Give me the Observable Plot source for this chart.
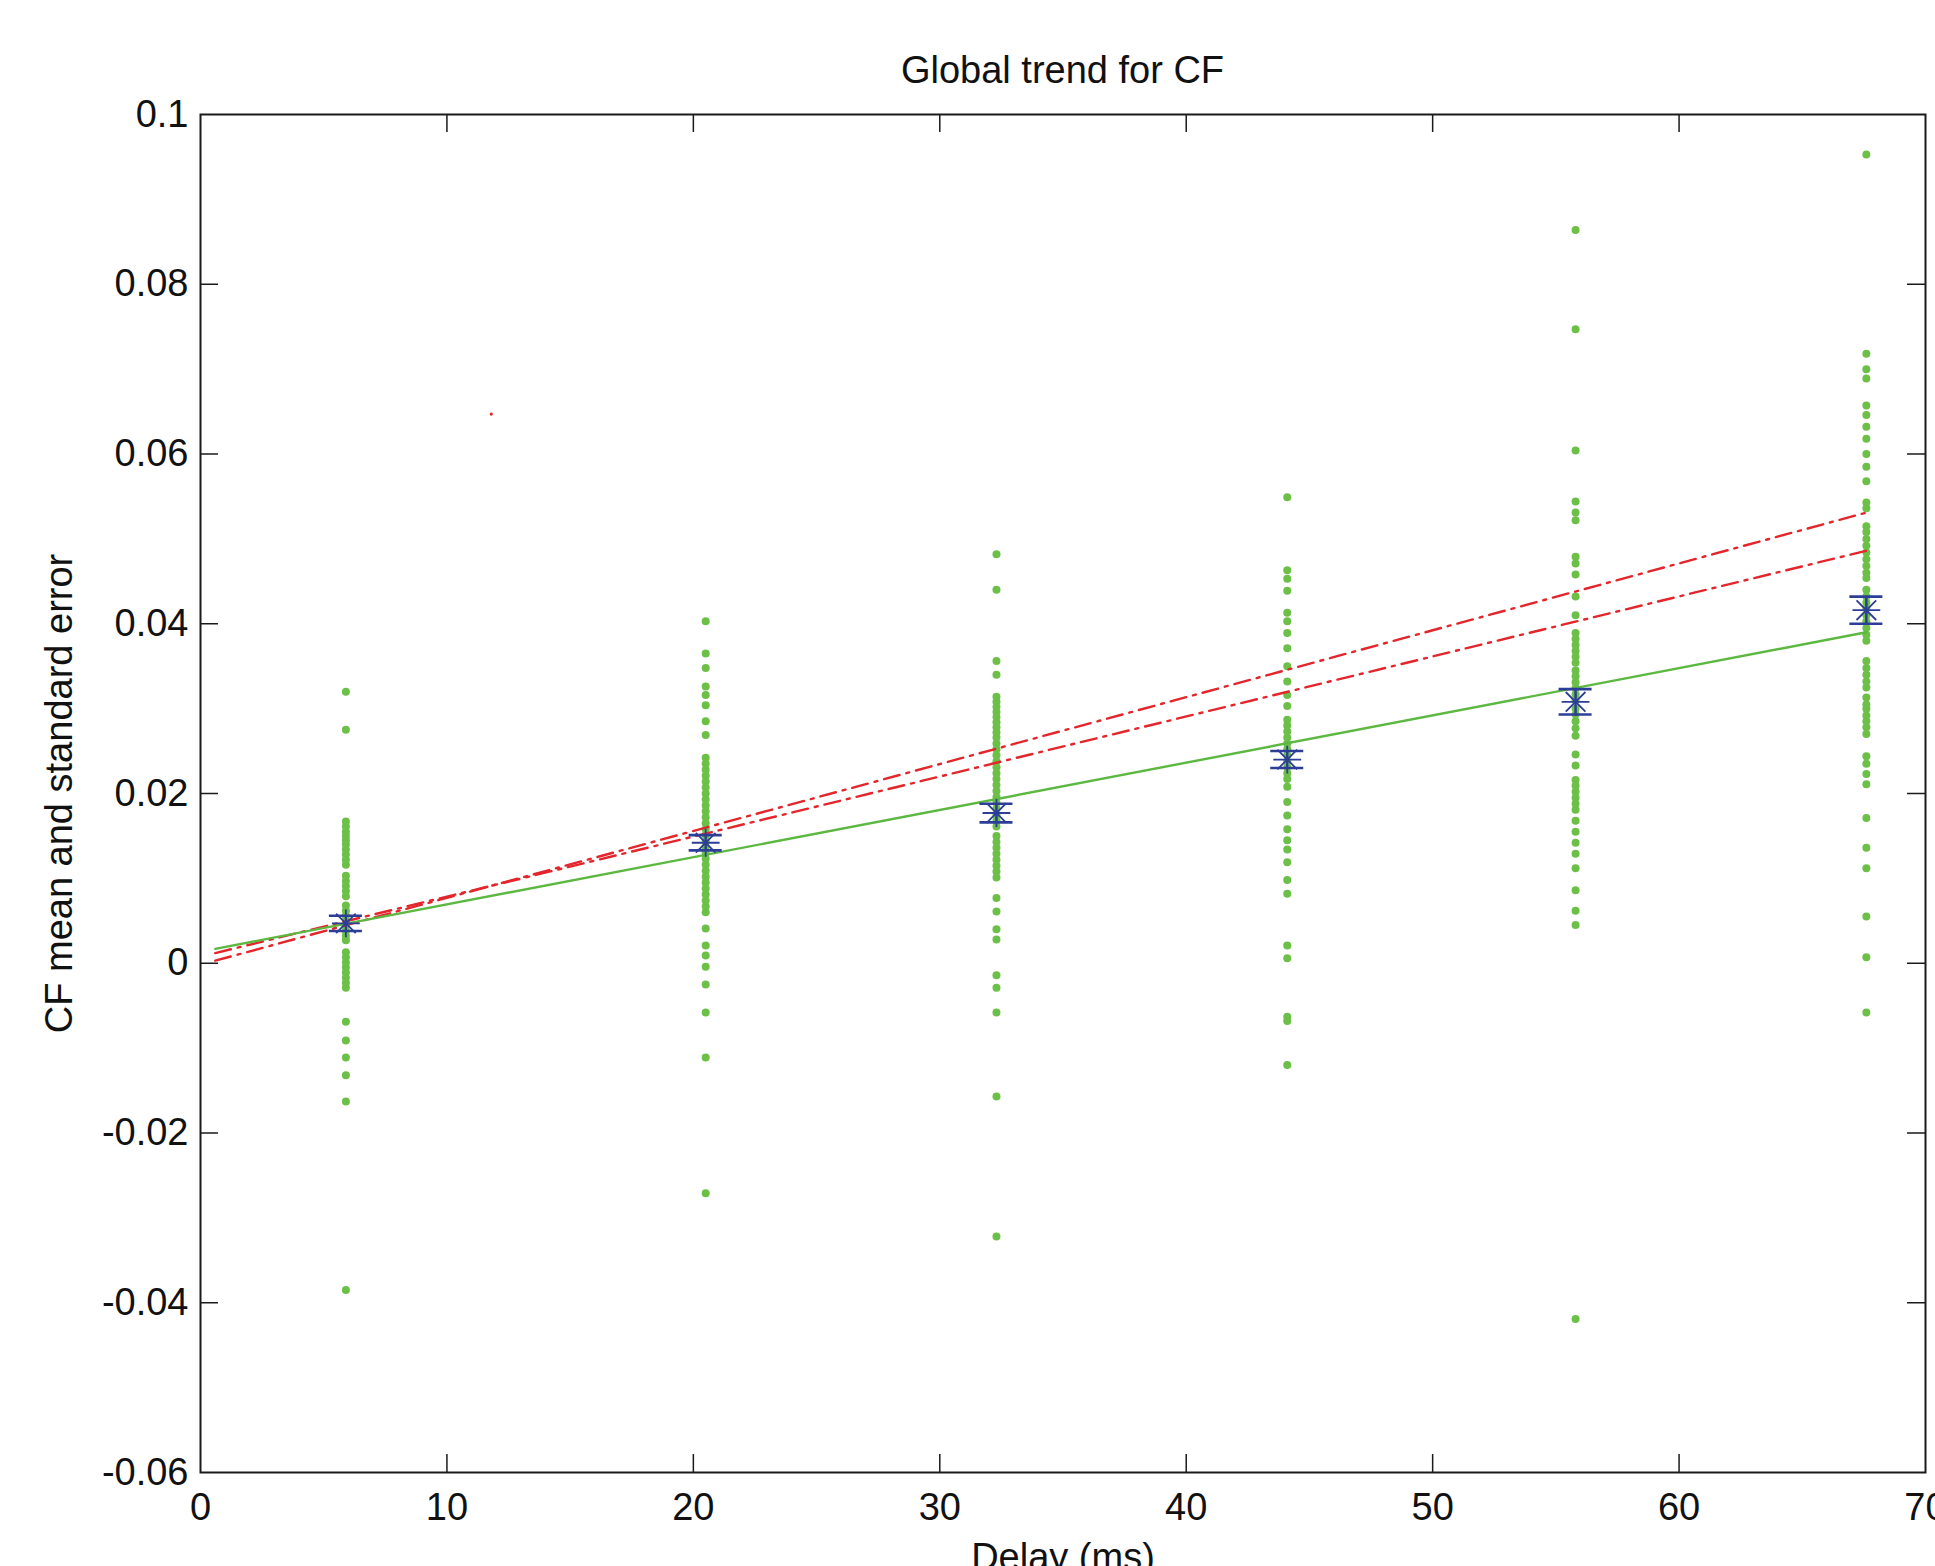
<!DOCTYPE html>
<html><head><meta charset="utf-8">
<script src="https://cdn.jsdelivr.net/npm/d3@7"></script>
<script src="https://cdn.jsdelivr.net/npm/@observablehq/plot@0.6"></script>
<style>
html,body{margin:0;padding:0;background:#fff;overflow:hidden;}
#title{position:relative;width:1935px;height:90px;font-family:"Liberation Sans",Arial,sans-serif;}
#title span{position:absolute;left:200px;width:1725px;top:48px;line-height:44px;text-align:center;font-size:38px;color:#111;}
</style></head>
<body>
<div id="title"><span>Global trend for CF</span></div>
<div id="chart"></div>
<script>
// ---- data ----
const delays = [5.9, 20.5, 32.3, 44.1, 55.8, 67.6];
const cf1 = [0.0320, 0.0275, 0.0167, 0.0161, 0.0155, 0.0150, 0.0145, 0.0140, 0.0134, 0.0128, 0.0122, 0.0116, 0.0103, 0.0097, 0.0091, 0.0085, 0.0079, 0.0068, 0.0062, 0.0056, 0.0050, 0.0044, 0.0038, 0.0032, 0.0027, 0.0013, 0.0007, 0.0001, -0.0005, -0.0011, -0.0017, -0.0023, -0.0029, -0.0069, -0.0091, -0.0111, -0.0132, -0.0163, -0.0385];
const cf2 = [0.0403, 0.0365, 0.0348, 0.0326, 0.0316, 0.0304, 0.0285, 0.0269, 0.0242, 0.0235, 0.0228, 0.0221, 0.0214, 0.0207, 0.0200, 0.0193, 0.0186, 0.0179, 0.0172, 0.0165, 0.0158, 0.0151, 0.0144, 0.0137, 0.0130, 0.0123, 0.0116, 0.0109, 0.0102, 0.0095, 0.0088, 0.0081, 0.0074, 0.0067, 0.0060, 0.0041, 0.0021, 0.0009, -0.0004, -0.0025, -0.0058, -0.0111, -0.0271];
const cf3 = [0.0482, 0.0440, 0.0356, 0.0340, 0.0314, 0.0308, 0.0302, 0.0296, 0.0290, 0.0284, 0.0278, 0.0272, 0.0266, 0.0259, 0.0252, 0.0245, 0.0238, 0.0231, 0.0224, 0.0217, 0.0210, 0.0203, 0.0196, 0.0189, 0.0182, 0.0175, 0.0168, 0.0161, 0.0150, 0.0143, 0.0136, 0.0129, 0.0122, 0.0115, 0.0108, 0.0101, 0.0077, 0.0061, 0.0040, 0.0028, -0.0014, -0.0029, -0.0058, -0.0157, -0.0322];
const cf4 = [0.0549, 0.0463, 0.0453, 0.0439, 0.0413, 0.0403, 0.0389, 0.0371, 0.0350, 0.0332, 0.0316, 0.0303, 0.0287, 0.0280, 0.0273, 0.0266, 0.0259, 0.0252, 0.0245, 0.0238, 0.0231, 0.0224, 0.0217, 0.0208, 0.0190, 0.0174, 0.0158, 0.0145, 0.0134, 0.0119, 0.0098, 0.0082, 0.0021, 0.0006, -0.0063, -0.0068, -0.0120];
const cf5 = [0.0864, 0.0747, 0.0604, 0.0544, 0.0531, 0.0522, 0.0479, 0.0471, 0.0458, 0.0432, 0.0410, 0.0389, 0.0382, 0.0375, 0.0368, 0.0361, 0.0354, 0.0345, 0.0338, 0.0331, 0.0324, 0.0317, 0.0310, 0.0300, 0.0293, 0.0285, 0.0277, 0.0268, 0.0246, 0.0233, 0.0216, 0.0209, 0.0202, 0.0195, 0.0188, 0.0181, 0.0168, 0.0155, 0.0142, 0.0129, 0.0112, 0.0086, 0.0062, 0.0045, -0.0419];
const cf6 = [0.0953, 0.0718, 0.0700, 0.0689, 0.0657, 0.0646, 0.0632, 0.0618, 0.0600, 0.0585, 0.0568, 0.0543, 0.0536, 0.0515, 0.0508, 0.0500, 0.0492, 0.0484, 0.0476, 0.0468, 0.0460, 0.0454, 0.0440, 0.0432, 0.0425, 0.0418, 0.0410, 0.0403, 0.0395, 0.0387, 0.0380, 0.0356, 0.0348, 0.0340, 0.0332, 0.0325, 0.0313, 0.0305, 0.0300, 0.0292, 0.0285, 0.0278, 0.0270, 0.0244, 0.0235, 0.0223, 0.0211, 0.0171, 0.0136, 0.0112, 0.0055, 0.0007, -0.0058];
const means = [0.0047, 0.0142, 0.0177, 0.0240, 0.0308, 0.0416];
const stdErr = [0.0009, 0.0009, 0.0011, 0.0010, 0.0015, 0.0016];
// trend lines (endpoints)
const lineX = [0.6, 67.6];
const greenFit = [0.0017, 0.0390];
const redUpper = [0.0003, 0.0531];
const redLower = [0.0012, 0.0486];
const strayX = [11.8];
const strayY = [0.0647];
// axis ticks
const xTicks = [0, 10, 20, 30, 40, 50, 60, 70];
const yTicks = [-0.06, -0.04, -0.02, 0, 0.02, 0.04, 0.06, 0.08, 0.1];

// ---- layout ----
const W = 1935, H = 1476;
const mL = 200, mR = 10, mT = 24, mB = 94;
const innerW = W - mL - mR, innerH = H - mT - mB;
const tickLen = 18;
const capHalf = 0.67; // ms

const cols = [cf1, cf2, cf3, cf4, cf5, cf6];
const points = delays.flatMap((d, i) => cols[i].map(v => ({delay: d, cf: v})));
const stats = delays.map((d, i) => ({delay: d, mean: means[i], lo: means[i] - stdErr[i], hi: means[i] + stdErr[i]}));
const fitLine = (ys) => lineX.map((x, i) => ({x, y: ys[i]}));
const stray = strayX.map((x, i) => ({x, y: strayY[i]}));
const innerX = xTicks.slice(1, -1), innerY = yTicks.slice(1, -1);
const fmtY = d => String(+d.toFixed(2));

const GREEN_DOT = "#6cc048", GREEN_LINE = "#5cb840", RED = "#e2262c", BLUE = "#2d3e98", AX = "#1a1a1a";

const chart = Plot.plot({
  width: W, height: H,
  marginLeft: mL, marginRight: mR, marginTop: mT, marginBottom: mB,
  style: {fontFamily: "'Liberation Sans', Arial, sans-serif", fontSize: "38px", color: "#111", background: "#fff", overflow: "visible"},
  x: {domain: [0, 70]},
  y: {domain: [-0.06, 0.1]},
  marks: [
    Plot.dot(points, {x: "delay", y: "cf", r: 4, fill: GREEN_DOT, stroke: "none"}),
    Plot.line(fitLine(redUpper), {x: "x", y: "y", stroke: RED, strokeWidth: 2.4, strokeDasharray: "16,7,3,7"}),
    Plot.line(fitLine(redLower), {x: "x", y: "y", stroke: RED, strokeWidth: 2.4, strokeDasharray: "16,7,3,7"}),
    Plot.line(fitLine(greenFit), {x: "x", y: "y", stroke: GREEN_LINE, strokeWidth: 2.4}),
    Plot.dot(stray, {x: "x", y: "y", r: 1.6, fill: RED, stroke: "none"}),
    Plot.ruleX(stats, {x: "delay", y1: "lo", y2: "hi", stroke: BLUE, strokeWidth: 2.2}),
    Plot.ruleY(stats, {y: "hi", x1: d => d.delay - capHalf, x2: d => d.delay + capHalf, stroke: BLUE, strokeWidth: 2.6}),
    Plot.ruleY(stats, {y: "lo", x1: d => d.delay - capHalf, x2: d => d.delay + capHalf, stroke: BLUE, strokeWidth: 2.6}),
    Plot.dot(stats, {x: "delay", y: "mean", symbol: "plus", r: 9, stroke: BLUE, strokeWidth: 1.8, fill: "none"}),
    Plot.dot(stats, {x: "delay", y: "mean", symbol: "times", r: 9, stroke: BLUE, strokeWidth: 1.8, fill: "none"}),
    Plot.frame({stroke: AX, strokeWidth: 2}),
    Plot.tickX(innerX, {x: d => d, stroke: AX, strokeWidth: 1.5, insetTop: innerH - tickLen}),
    Plot.tickX(innerX, {x: d => d, stroke: AX, strokeWidth: 1.5, insetBottom: innerH - tickLen}),
    Plot.tickY(innerY, {y: d => d, stroke: AX, strokeWidth: 1.5, insetRight: innerW - tickLen}),
    Plot.tickY(innerY, {y: d => d, stroke: AX, strokeWidth: 1.5, insetLeft: innerW - tickLen}),
    Plot.axisX({ticks: xTicks, tickSize: 0, tickPadding: 21, tickFormat: d => String(d), label: null, fontSize: 38}),
    Plot.axisY({ticks: yTicks, tickSize: 0, tickPadding: 12, tickFormat: fmtY, label: null, fontSize: 38}),
    Plot.text(["Delay (ms)"], {frameAnchor: "bottom", dy: 97, textAnchor: "middle", text: d => d, fontSize: 38, fill: "#111"}),
    Plot.text(["CF mean and standard error"], {frameAnchor: "left", dx: -141, rotate: -90, textAnchor: "middle", text: d => d, fontSize: 38, fill: "#111"})
  ]
});
document.getElementById("chart").appendChild(chart);
</script>
</body></html>
